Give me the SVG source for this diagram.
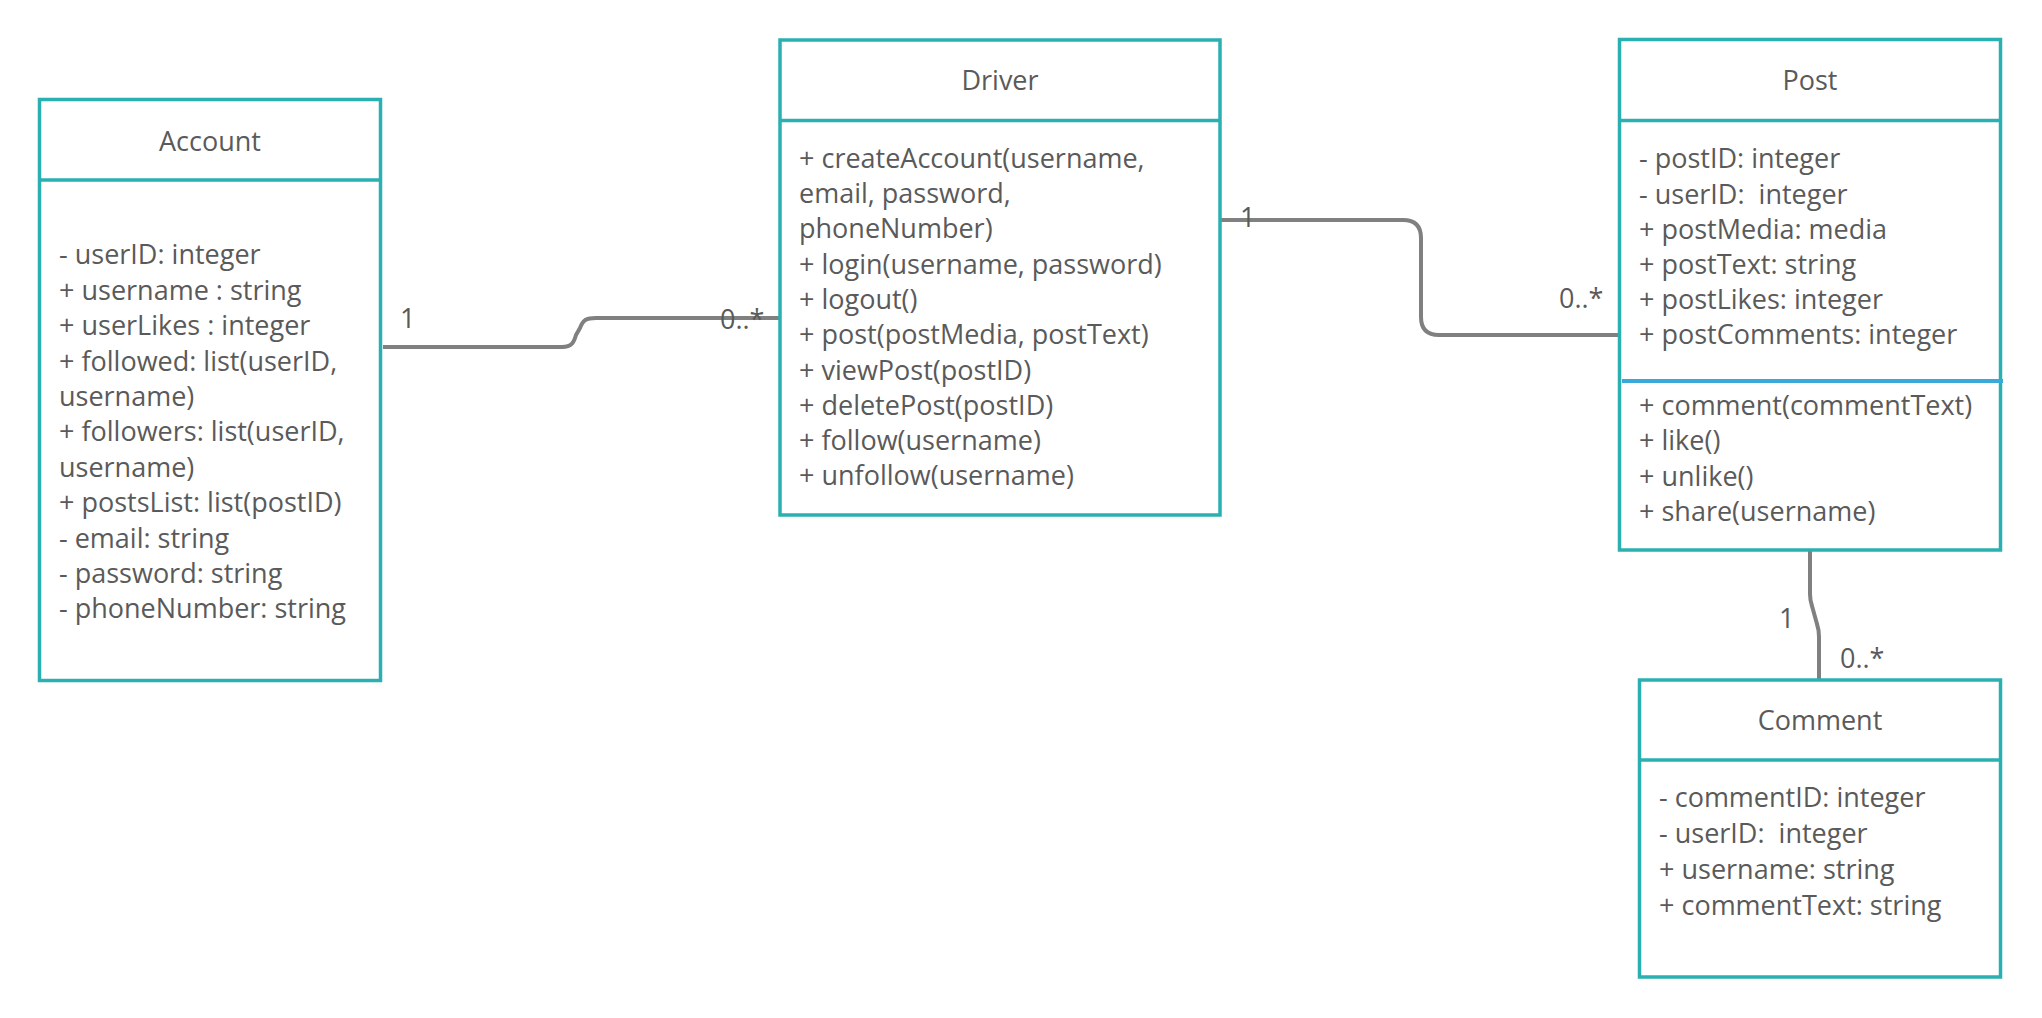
<svg xmlns="http://www.w3.org/2000/svg" width="2042" height="1018" viewBox="0 0 2042 1018">
<style>
.box{fill:#fff;stroke:#2AB0B0;stroke-width:3.5}
.div{stroke:#2AB0B0;stroke-width:3.5}
text{font-family:"Open Sans","Noto Sans",sans-serif;font-size:27px;fill:#5A5A5A}
.title{text-anchor:middle}
.conn{fill:none;stroke:#808080;stroke-width:4;stroke-linejoin:round}
</style>
<rect width="2042" height="1018" fill="#fff"/>
<g id="connectors">
<path class="conn" d="M383,347 H562 C572,347 574,342 576,335 L580,328 C583,320 586,318 596,318 H780"/>
<path class="conn" d="M1220,220 H1403 Q1421,220 1421,238 V317 Q1421,335 1439,335 H1619"/>
<path class="conn" d="M1810,550 V594 Q1810,600 1812,606 L1817,624 Q1819,630 1819,637 V680"/>
<text x="400" y="328">1</text>
<text x="720" y="329">0..*</text>
<text x="1240" y="227">1</text>
<text x="1559" y="308">0..*</text>
<text x="1779" y="628">1</text>
<text x="1840" y="668">0..*</text>
</g>
<g id="account">
<rect class="box" x="39.5" y="99.5" width="341" height="581"/>
<line class="div" x1="39.5" y1="180" x2="380.5" y2="180"/>
<text class="title" x="210" y="151">Account</text>
<text x="59" y="264.3">- userID: integer</text>
<text x="59" y="299.7">+ username : string</text>
<text x="59" y="335.1">+ userLikes : integer</text>
<text x="59" y="370.5">+ followed: list(userID,</text>
<text x="59" y="405.9">username)</text>
<text x="59" y="441.3">+ followers: list(userID,</text>
<text x="59" y="476.7">username)</text>
<text x="59" y="512.1">+ postsList: list(postID)</text>
<text x="59" y="547.5">- email: string</text>
<text x="59" y="582.9">- password: string</text>
<text x="59" y="618.3">- phoneNumber: string</text>
</g>
<g id="driver">
<rect class="box" x="780" y="40" width="440" height="475"/>
<line class="div" x1="780" y1="120.5" x2="1220" y2="120.5"/>
<text class="title" x="1000" y="89.5">Driver</text>
<text x="799" y="167.7">+ createAccount(username,</text>
<text x="799" y="203">email, password,</text>
<text x="799" y="238.3">phoneNumber)</text>
<text x="799" y="273.6">+ login(username, password)</text>
<text x="799" y="308.9">+ logout()</text>
<text x="799" y="344.2">+ post(postMedia, postText)</text>
<text x="799" y="379.5">+ viewPost(postID)</text>
<text x="799" y="414.8">+ deletePost(postID)</text>
<text x="799" y="450.1">+ follow(username)</text>
<text x="799" y="485.4">+ unfollow(username)</text>
</g>
<g id="post">
<rect class="box" x="1619.5" y="39.5" width="381" height="510.5"/>
<line class="div" x1="1619.5" y1="120.5" x2="2000.5" y2="120.5"/>
<line x1="1622" y1="381" x2="2003" y2="381" stroke="#38A9D9" stroke-width="4"/>
<text class="title" x="1810" y="90.3">Post</text>
<text x="1639" y="168.4">- postID: integer</text>
<text x="1639" y="203.6" xml:space="preserve">- userID:  integer</text>
<text x="1639" y="238.8">+ postMedia: media</text>
<text x="1639" y="274">+ postText: string</text>
<text x="1639" y="309.2">+ postLikes: integer</text>
<text x="1639" y="344.4">+ postComments: integer</text>
<text x="1639" y="415.2">+ comment(commentText)</text>
<text x="1639" y="450.4">+ like()</text>
<text x="1639" y="485.6">+ unlike()</text>
<text x="1639" y="520.8">+ share(username)</text>
</g>
<g id="comment">
<rect class="box" x="1639.5" y="680" width="361" height="297"/>
<line class="div" x1="1639.5" y1="760" x2="2000.5" y2="760"/>
<text class="title" x="1820" y="730">Comment</text>
<text x="1659" y="807.3">- commentID: integer</text>
<text x="1659" y="843.3" xml:space="preserve">- userID:  integer</text>
<text x="1659" y="879.3">+ username: string</text>
<text x="1659" y="914.8">+ commentText: string</text>
</g>
</svg>
